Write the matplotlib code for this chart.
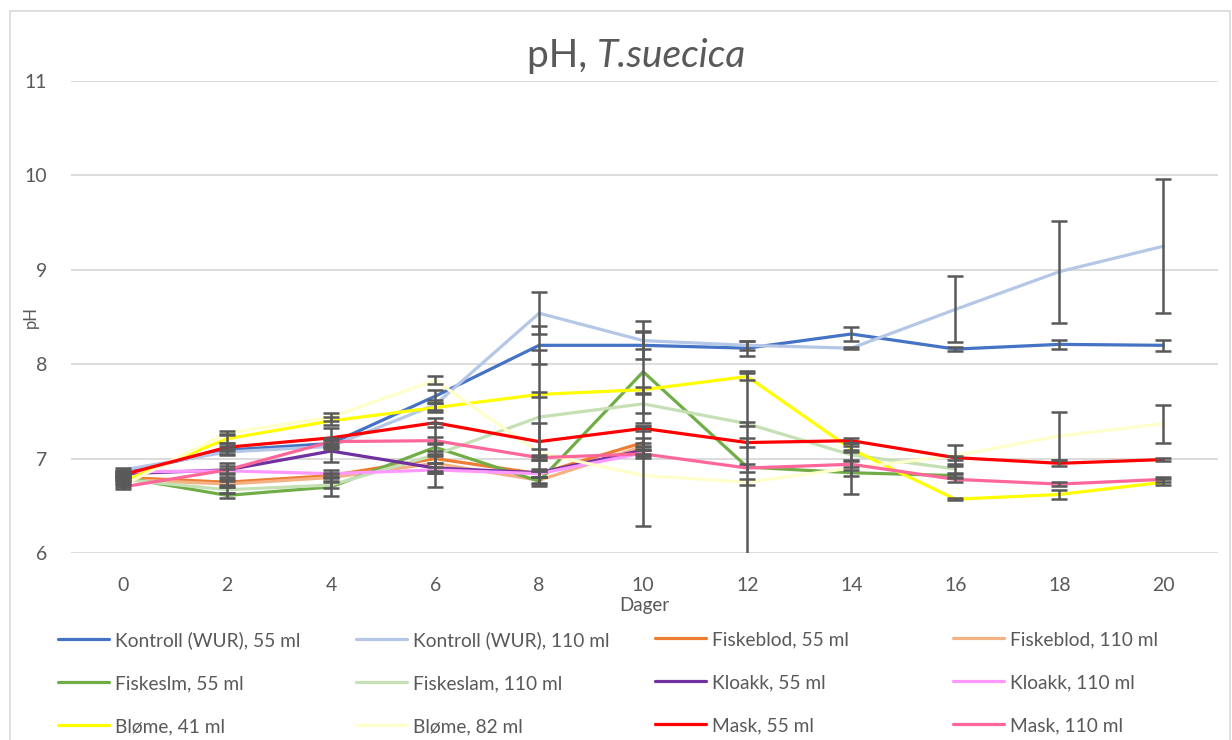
import numpy as np
import matplotlib
matplotlib.use("Agg")
import matplotlib.pyplot as plt
from matplotlib.patches import Rectangle

plt.rcParams['font.family'] = ['Lato', 'DejaVu Sans']

# ---------------- data ----------------
days = [0, 2, 4, 6, 8, 10, 12, 14, 16, 18, 20]

kontroll_55 = [6.85, 7.09, 7.16, 7.66, 8.20, 8.20, 8.17, 8.32, 8.16, 8.21, 8.20]
kontroll_110 = [6.88, 7.07, 7.13, 7.57, 8.54, 8.25, 8.20, 8.17, 8.58, 8.98, 9.25]
fiskeblod_55 = [6.80, 6.75, 6.82, 7.00, 6.84, 7.17]
fiskeblod_110 = [6.78, 6.73, 6.80, 6.95, 6.77, 7.13]
fiskeslm_55 = [6.80, 6.61, 6.70, 7.12, 6.76, 7.92, 6.91, 6.85, 6.82]
fiskeslam_110 = [6.78, 6.67, 6.72, 7.04, 7.44, 7.58, 7.37, 7.04, 6.89]
kloakk_55 = [6.84, 6.88, 7.08, 6.90, 6.85, 7.09]
kloakk_110 = [6.86, 6.87, 6.84, 6.88, 6.84, 7.06]
blome_41 = [6.76, 7.21, 7.40, 7.54, 7.68, 7.73, 7.87, 7.10, 6.57, 6.62, 6.75]
blome_82 = [6.72, 7.27, 7.44, 7.83, 7.06, 6.82, 6.75, 6.90, 7.03, 7.24, 7.37]
mask_55 = [6.83, 7.12, 7.22, 7.38, 7.18, 7.32, 7.17, 7.19, 7.01, 6.95, 6.99]
mask_110 = [6.70, 6.88, 7.18, 7.19, 7.01, 7.05, 6.90, 6.94, 6.78, 6.73, 6.78]

err_kontroll_55 = [0.02, 0.04, 0.04, 0.07, 0.20, 0.15, 0.08, 0.07, 0.02, 0.05, 0.06]
err_kontroll_110 = [0.02, 0.03, 0.03, 0.05, 0.22, 0.09, 0.05, 0.01, 0.35, 0.54, 0.71]
err_fiskeblod_55 = [0.02, 0.03, 0.03, 0.05, 0.03, 0.05]
err_fiskeblod_110 = [0.02, 0.03, 0.04, 0.08, 0.03, 0.04]
err_fiskeslm_55 = [0.03, 0.03, 0.10, 0.04, 0.05, 0.54, 1.02, 0.03, 0.03]
err_fiskeslam_110 = [0.02, 0.03, 0.03, 0.34, 0.71, 0.10, 0.02, 0.05, 0.05]
err_kloakk_55 = [0.02, 0.07, 0.12, 0.05, 0.04, 0.04]
err_kloakk_110 = [0.02, 0.02, 0.04, 0.03, 0.03, 0.03]
err_blome_41 = [0.03, 0.05, 0.04, 0.05, 0.03, 0.03, 0.04, 0.03, 0.01, 0.05, 0.03]
err_blome_82 = [0.02, 0.02, 0.04, 0.04, 0.04, 0.53, 0.03, 0.27, 0.11, 0.25, 0.20]
err_mask_55 = [0.03, 0.04, 0.10, 0.05, 0.20, 0.03, 0.05, 0.03, 0.02, 0.03, 0.02]
err_mask_110 = [0.02, 0.04, 0.04, 0.04, 0.03, 0.04, 0.04, 0.03, 0.03, 0.02, 0.03]

labels = ["Kontroll (WUR), 55 ml", "Kontroll (WUR), 110 ml", "Fiskeblod, 55 ml",
          "Fiskeblod, 110 ml", "Fiskeslm, 55 ml", "Fiskeslam, 110 ml",
          "Kloakk, 55 ml", "Kloakk, 110 ml", "Bløme, 41 ml", "Bløme, 82 ml",
          "Mask, 55 ml", "Mask, 110 ml"]
colors = ["#4472C4", "#B4C7E7", "#ED7D31", "#F4B183", "#70AD47", "#C5E0B4",
          "#7030A0", "#FF99FF", "#FFFF00", "#FFFFCC", "#FF0000", "#FF6699"]

series = [kontroll_55, kontroll_110, fiskeblod_55, fiskeblod_110, fiskeslm_55,
          fiskeslam_110, kloakk_55, kloakk_110, blome_41, blome_82, mask_55, mask_110]
errors = [err_kontroll_55, err_kontroll_110, err_fiskeblod_55, err_fiskeblod_110,
          err_fiskeslm_55, err_fiskeslam_110, err_kloakk_55, err_kloakk_110,
          err_blome_41, err_blome_82, err_mask_55, err_mask_110]

yticks = [6, 7, 8, 9, 10, 11]

# ---------------- figure ----------------
W, H = 1232, 740
fig = plt.figure(figsize=(W / 100, H / 100), dpi=100)
fig.patch.set_facecolor("white")

# outer chart border
fig.patches.append(Rectangle((10 / W, -0.01), (1230 - 10) / W, (H - 11) / H + 0.01,
                             transform=fig.transFigure, fill=False,
                             edgecolor="#D9D9D9", linewidth=1.2))

ax = fig.add_axes([71 / W, 1 - 553 / H, (1218 - 71) / W, (553 - 81) / H])
txt = "#595959"

handles = []
for vals, col, lab in zip(series, colors, labels):
    x = days[:len(vals)]
    h, = ax.plot(x, vals, color=col, linewidth=2.3, label=lab, zorder=3,
                 solid_capstyle="round", solid_joinstyle="round")
    handles.append(h)

for vals, err in zip(series, errors):
    x = days[:len(vals)]
    ax.errorbar(x, vals, yerr=err, fmt="none", ecolor="#595959",
                elinewidth=1.8, capsize=5.5, capthick=1.8, zorder=4)

ax.set_xlim(-1, 21.05)
ax.set_ylim(6, 11)
ax.set_xticks(days)
ax.set_xticklabels([str(d) for d in days])
ax.set_yticks(yticks)
ax.set_yticklabels([str(v) for v in yticks])
ax.tick_params(axis="both", length=0, labelsize=14, colors=txt)
ax.tick_params(axis="y", pad=17)
ax.tick_params(axis="x", pad=17)
for s in ax.spines.values():
    s.set_visible(False)
ax.grid(axis="y", color="#D9D9D9", linewidth=1.3, zorder=0)
ax.set_axisbelow(True)

# axis titles
fig.text(31 / W, 1 - 317 / H, "pH", fontsize=12, color=txt, rotation=90,
         ha="center", va="center")
fig.text(644 / W, 1 - 606 / H, "Dager", fontsize=13.5, color=txt,
         ha="center", va="center")

# chart title (mixed upright / italic)
fig.text(597 / W, 1 - 67 / H, "pH, ", fontsize=28, color=txt, ha="right", va="baseline")
fig.text(597 / W, 1 - 67 / H, "T.suecica", fontsize=28, color=txt, ha="left",
         va="baseline", style="italic")

# legend: 4 columns at fixed positions, row-major order as in the reference
col_x = [58, 356, 655, 953]
for c in range(4):
    hs = [handles[r * 4 + c] for r in range(3)]
    ls = [labels[r * 4 + c] for r in range(3)]
    leg = fig.legend(hs, ls, loc="upper left",
                     bbox_to_anchor=(col_x[c] / W, 1 - 631 / H),
                     frameon=False, fontsize=13.8, handlelength=2.65,
                     handletextpad=0.3, labelspacing=1.36, borderpad=0,
                     borderaxespad=0)
    for t in leg.get_texts():
        t.set_color(txt)

fig.savefig("out.png", dpi=100, facecolor="white")
